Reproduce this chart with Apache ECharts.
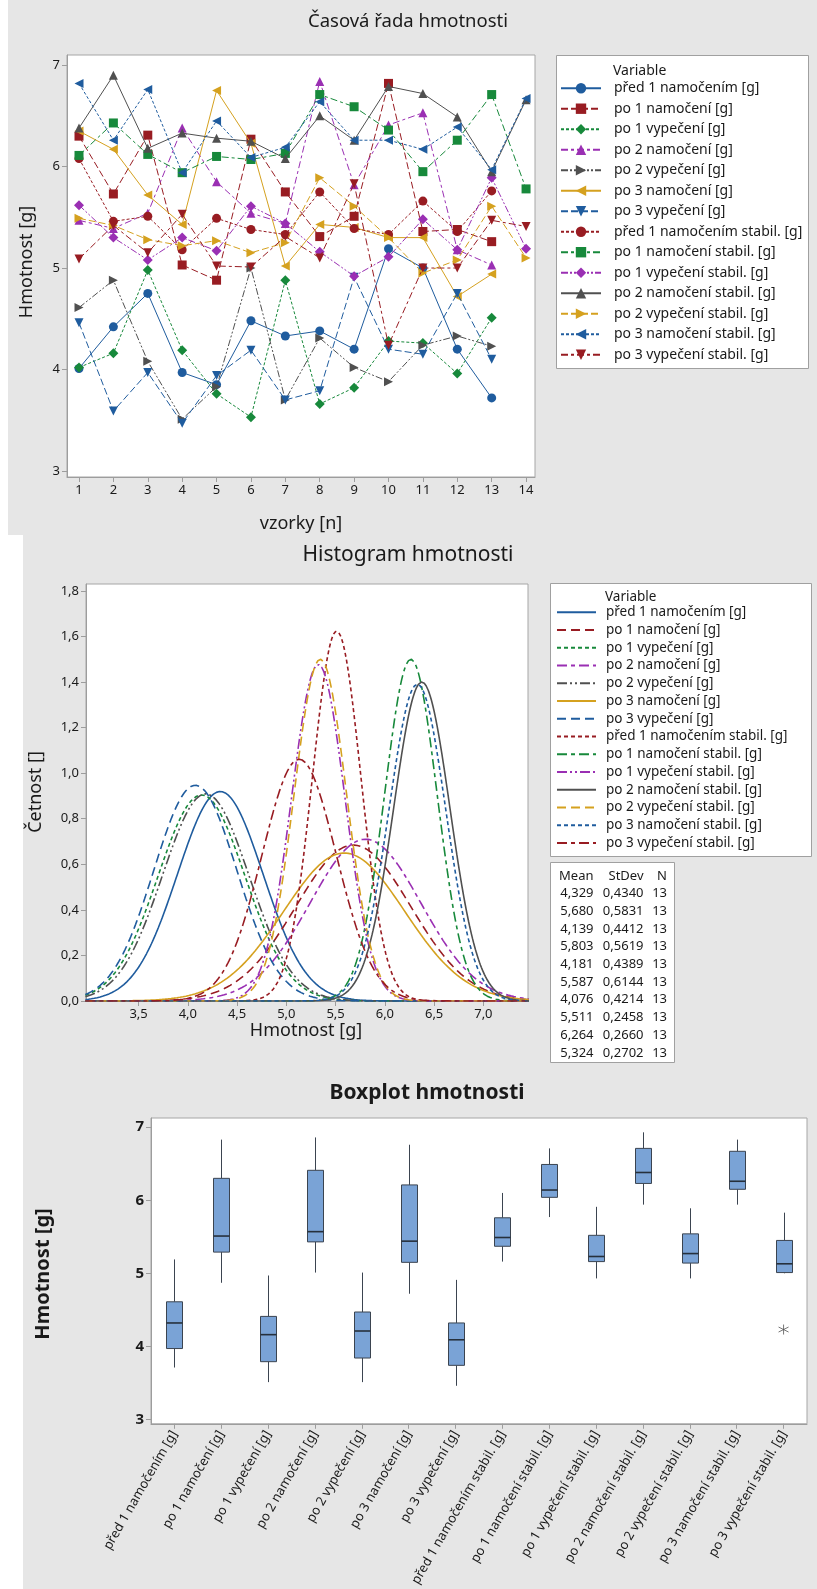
<!DOCTYPE html>
<html><head><meta charset="utf-8">
<script src="https://cdn.jsdelivr.net/npm/echarts@6/dist/echarts.min.js"></script>
<style>html,body{margin:0;padding:0;background:#fff}#c{width:817px;height:1589px}</style>
</head><body><div id="c"></div>
<script>
// ---------- DATA ----------
const seriesNames = [
  'před 1 namočením [g]','po 1 namočení [g]','po 1 vypečení [g]','po 2 namočení [g]',
  'po 2 vypečení [g]','po 3 namočení [g]','po 3 vypečení [g]','před 1 namočením stabil. [g]',
  'po 1 namočení stabil. [g]','po 1 vypečení stabil. [g]','po 2 namočení stabil. [g]',
  'po 2 vypečení stabil. [g]','po 3 namočení stabil. [g]','po 3 vypečení stabil. [g]'
];
const samples = [1,2,3,4,5,6,7,8,9,10,11,12,13,14];
const predNam     = [4.01,4.42,4.75,3.97,3.85,4.48,4.33,4.38,4.20,5.19,5.00,4.20,3.72];
const po1Nam      = [6.30,5.73,6.31,5.03,4.88,6.27,5.75,5.31,5.51,6.82,5.36,5.38,5.26];
const po1Vyp      = [4.02,4.16,4.98,4.19,3.76,3.53,4.88,3.66,3.82,4.28,4.26,3.96,4.51];
const po2Nam      = [5.47,5.39,5.54,6.38,5.85,5.54,5.44,6.84,5.82,6.41,6.53,5.18,5.03];
const po2Vyp      = [4.61,4.88,4.08,3.51,3.83,5.00,3.70,4.31,4.02,3.88,4.24,4.33,4.23];
const po3Nam      = [6.35,6.17,5.72,5.43,6.75,6.23,5.02,5.43,5.40,5.30,5.30,4.72,4.94];
const po3Vyp      = [4.46,3.59,3.97,3.47,3.94,4.19,3.70,3.79,4.91,4.20,4.15,4.75,4.10];
const predNamStab = [6.08,5.46,5.51,5.18,5.49,5.38,5.33,5.75,5.39,5.33,5.66,5.36,5.76];
const po1NamStab  = [6.11,6.43,6.12,5.94,6.10,6.07,6.13,6.71,6.59,6.36,5.95,6.26,6.71,5.78];
const po1VypStab  = [5.62,5.30,5.08,5.30,5.17,5.61,5.44,5.16,4.92,5.11,5.48,5.18,5.89,5.19];
const po2NamStab  = [6.38,6.90,6.18,6.33,6.28,6.25,6.08,6.50,6.26,6.79,6.72,6.49,5.95,6.66];
const po2VypStab  = [5.49,5.42,5.28,5.22,5.27,5.15,5.25,5.89,5.61,5.30,4.95,5.08,5.61,5.10];
const po3NamStab  = [6.82,6.26,6.76,5.94,6.45,6.09,6.19,6.64,6.26,6.26,6.17,6.39,5.97,6.67];
const po3VypStab  = [5.09,5.42,5.15,5.53,5.02,5.01,5.31,5.10,5.83,4.24,5.00,5.00,5.47,5.41];
const tsTicksX = [1,2,3,4,5,6,7,8,9,10,11,12,13,14];
const tsTicksY = [3,4,5,6,7];

// histogram: fitted normal distributions (mean, stdev)
const histMeans = [4.329,5.680,4.139,5.803,4.181,5.587,4.076,5.511,6.264,5.324,6.375,5.345,6.330,5.130];
const histSds   = [0.4340,0.5831,0.4412,0.5619,0.4389,0.6144,0.4214,0.2458,0.2660,0.2702,0.285,0.266,0.287,0.376];
const histN     = [13,13,13,13,13,13,13,13,13,13];
const histTicksX = [3.5,4.0,4.5,5.0,5.5,6.0,6.5,7.0];
const histTicksY = [0,0.2,0.4,0.6,0.8,1.0,1.2,1.4,1.6,1.8];

// boxplot five-number summaries
const boxLow  = [3.71,4.87,3.51,5.01,3.51,4.72,3.46,5.16,5.77,4.93,5.94,4.93,5.94,5.00];
const boxQ1   = [3.97,5.29,3.79,5.43,3.84,5.15,3.74,5.37,6.04,5.16,6.23,5.14,6.15,5.01];
const boxMed  = [4.32,5.51,4.16,5.57,4.21,5.44,4.09,5.49,6.14,5.23,6.38,5.27,6.26,5.13];
const boxQ3   = [4.61,6.30,4.41,6.41,4.47,6.21,4.32,5.76,6.49,5.52,6.71,5.54,6.67,5.45];
const boxHigh = [5.19,6.83,4.97,6.86,5.01,6.76,4.91,6.10,6.71,5.91,6.93,5.89,6.83,5.83];
const boxOutliers = [[13,4.23]];
const boxTicksY = [3,4,5,6,7];

// ---------- STYLE ----------
const FONT = '"Noto Sans", "Open Sans", sans-serif';
const TXT = '#1a1a1a';
const palette = ['#1f5c9e','#981c22','#17893b','#9a2fb3','#505050','#d5a11f'];
const dashTs   = ['solid',[7,3],[3,2],[7,3,3,3],[7,2,2,2,2,2]];
const dashHist = ['solid',[9,5],[4,3],[10,4,4,4],[10,3,2,3,2,3]];
const symbols = ['circle','rect','diamond','triangle',
  'path://M0,0L10,5L0,10Z','path://M10,0L0,5L10,10Z','path://M0,0L10,0L5,10Z'];

const tsValues = [predNam,po1Nam,po1Vyp,po2Nam,po2Vyp,po3Nam,po3Vyp,predNamStab,
  po1NamStab,po1VypStab,po2NamStab,po2VypStab,po3NamStab,po3VypStab];

const comma1 = v => v.toFixed(1).replace('.', ',');
const axisGray = '#9d9d9d';

function valueAxis(grid, min, max, ticks, fmt, fontSize, weight, margin) {
  return {
    type: 'value', gridIndex: grid, min: min, max: max,
    axisLine: {show: true, lineStyle: {color: axisGray}},
    axisTick: {show: true, length: 5, customValues: ticks, lineStyle: {color: axisGray}},
    axisLabel: {customValues: ticks, formatter: fmt, fontSize: fontSize, fontWeight: weight || 'normal',
      color: TXT, fontFamily: FONT, margin: margin || 7},
    splitLine: {show: false}
  };
}

const series = [];
// time series
tsValues.forEach((vals, i) => {
  series.push({
    name: seriesNames[i], type: 'line', xAxisIndex: 0, yAxisIndex: 0,
    data: vals.map((v, k) => [samples[k], v]),
    symbol: symbols[i % 7], symbolSize: i % 7 === 2 ? 10 : 9,
    showSymbol: true,
    lineStyle: {color: palette[i % 6], width: 1, type: dashTs[i % 5]},
    itemStyle: {color: palette[i % 6]},
    z: 2 + i * 0.01
  });
});
// histogram curves
const histX = [];
for (let k = 0; k <= 450; k++) histX.push(2.96 + k * 0.01);
histMeans.forEach((m, i) => {
  const s = histSds[i];
  series.push({
    name: seriesNames[i] + ' ', type: 'line', xAxisIndex: 1, yAxisIndex: 1,
    data: histX.map(x => [x, Math.exp(-0.5 * ((x - m) / s) ** 2) / (s * Math.sqrt(2 * Math.PI))]),
    symbol: 'none', showSymbol: false,
    lineStyle: {color: palette[i % 6], width: 1.6, type: dashHist[i % 5]},
    itemStyle: {color: palette[i % 6]}
  });
});
// boxplot
const boxData = seriesNames.map((n, i) => [i, boxLow[i], boxQ1[i], boxMed[i], boxQ3[i], boxHigh[i]]);
series.push({
  name: 'box', type: 'custom', xAxisIndex: 2, yAxisIndex: 2,
  encode: {x: 0, y: [1,2,3,4,5]},
  data: boxData,
  renderItem: function (params, api) {
    const x = api.value(0);
    const lo = api.coord([x, api.value(1)]);
    const q1 = api.coord([x, api.value(2)]);
    const md = api.coord([x, api.value(3)]);
    const q3 = api.coord([x, api.value(4)]);
    const hi = api.coord([x, api.value(5)]);
    const w = 16, cx = Math.round(lo[0]) + 0.5, st = '#3b4450';
    return {type: 'group', children: [
      {type: 'line', shape: {x1: cx, y1: hi[1], x2: cx, y2: q3[1]}, style: {stroke: st, lineWidth: 1}},
      {type: 'line', shape: {x1: cx, y1: q1[1], x2: cx, y2: lo[1]}, style: {stroke: st, lineWidth: 1}},
      {type: 'rect', shape: {x: cx - w / 2, y: q3[1], width: w, height: q1[1] - q3[1]},
        style: {fill: '#7aa3d6', stroke: st, lineWidth: 1}},
      {type: 'line', shape: {x1: cx - w / 2, y1: md[1], x2: cx + w / 2, y2: md[1]},
        style: {stroke: '#26303c', lineWidth: 1.6}}
    ]};
  }
});
series.push({
  name: 'outlier', type: 'scatter', xAxisIndex: 2, yAxisIndex: 2,
  data: boxOutliers,
  symbol: 'path://M5,0L5,10M0.67,2.5L9.33,7.5M0.67,7.5L9.33,2.5', symbolSize: 10,
  itemStyle: {color: 'rgba(0,0,0,0)', borderColor: '#555', borderWidth: 1}
});

// ---------- GRAPHICS (backgrounds, titles, legend frames, stats table) ----------
const g = [];
g.push({type: 'rect', z: -100, shape: {x: 8, y: 0, width: 809, height: 535}, style: {fill: '#e6e6e6'}});
g.push({type: 'rect', z: -100, shape: {x: 23, y: 535, width: 794, height: 1054}, style: {fill: '#e6e6e6'}});
function txt(x, y, text, size, opts) {
  opts = opts || {};
  return {type: 'text', z: 10, x: x, y: y, rotation: opts.rot || 0,
    style: {text: text, fontSize: size, fontFamily: FONT, fontWeight: opts.weight || 'normal',
      fill: opts.color || TXT, align: opts.align || 'center', verticalAlign: 'middle'}};
}
// titles / axis names
g.push(txt(408, 22, 'Časová řada hmotnosti', 18.5));
g.push(txt(27, 262, 'Hmotnost [g]', 18, {rot: Math.PI / 2}));
g.push(txt(301, 524, 'vzorky [n]', 18));
g.push(txt(408, 555, 'Histogram hmotnosti', 21));
g.push(txt(36, 792, 'Četnost []', 18, {rot: Math.PI / 2}));
g.push(txt(306, 1031, 'Hmotnost [g]', 18));
g.push(txt(427, 1093, 'Boxplot hmotnosti', 21, {weight: 'bold'}));
g.push(txt(43, 1274, 'Hmotnost [g]', 20, {rot: Math.PI / 2, weight: 'bold'}));
// legend frames
g.push({type: 'rect', z: 1, shape: {x: 556.5, y: 55.5, width: 252, height: 313}, style: {fill: '#fff', stroke: '#a0a0a0', lineWidth: 1}});
g.push(txt(613, 71.5, 'Variable', 14, {align: 'left'}));
g.push({type: 'rect', z: 1, shape: {x: 550.5, y: 583.5, width: 261, height: 273}, style: {fill: '#fff', stroke: '#a0a0a0', lineWidth: 1}});
g.push(txt(605, 597, 'Variable', 13.5, {align: 'left'}));
// stats table
g.push({type: 'rect', z: 1, shape: {x: 550.5, y: 862.5, width: 124, height: 200}, style: {fill: '#fff', stroke: '#a0a0a0', lineWidth: 1}});
g.push(txt(593.5, 876, 'Mean', 13, {align: 'right'}));
g.push(txt(643.5, 876, 'StDev', 13, {align: 'right'}));
g.push(txt(667, 876, 'N', 13, {align: 'right'}));
histN.forEach((n, i) => {
  const y = 893.5 + i * 17.7;
  g.push(txt(593.5, y, histMeans[i].toFixed(3).replace('.', ','), 13, {align: 'right'}));
  g.push(txt(643.5, y, histSds[i].toFixed(4).replace('.', ','), 13, {align: 'right'}));
  g.push(txt(667, y, String(n), 13, {align: 'right'}));
});

const option = {
  animation: false,
  textStyle: {fontFamily: FONT},
  grid: [
    {left: 67, top: 55, width: 468, height: 422, show: true, backgroundColor: '#fff', borderColor: '#a6a6a6', borderWidth: 1},
    {left: 86, top: 584, width: 442, height: 417, show: true, backgroundColor: '#fff', borderColor: '#a6a6a6', borderWidth: 1},
    {left: 151, top: 1118, width: 656, height: 309, show: true, backgroundColor: '#fff', borderColor: '#a6a6a6', borderWidth: 1}
  ],
  xAxis: [
    valueAxis(0, 0.651, 14.26, tsTicksX, v => String(v), 13),
    valueAxis(1, 2.966, 7.453, histTicksX, comma1, 13),
    {type: 'category', gridIndex: 2, data: seriesNames,
      axisLine: {show: true, lineStyle: {color: axisGray}},
      axisTick: {show: true, alignWithLabel: true, length: 5, lineStyle: {color: axisGray}},
      axisLabel: {interval: 0, rotate: 60, fontSize: 13, color: TXT, fontFamily: FONT, margin: 8},
      splitLine: {show: false}}
  ],
  yAxis: [
    valueAxis(0, 2.94, 7.10, tsTicksY, v => String(v), 13),
    valueAxis(1, 0, 1.83, histTicksY, comma1, 13),
    valueAxis(2, 2.94, 7.126, boxTicksY, v => String(v), 15, 'bold')
  ],
  legend: [
    {orient: 'vertical', left: 560, top: 81.2, padding: 0, itemWidth: 40, itemHeight: 13, itemGap: 6.5,
      selectedMode: false, data: seriesNames,
      textStyle: {fontSize: 14, lineHeight: 14, color: TXT, fontFamily: FONT, padding: [0,0,0,8]}},
    {orient: 'vertical', left: 556, top: 605.3, padding: 0, itemWidth: 39, itemHeight: 13, itemGap: 3.75,
      selectedMode: false, data: seriesNames.map(n => n + ' '),
      itemStyle: {opacity: 0},
      textStyle: {fontSize: 13.5, lineHeight: 14, color: TXT, fontFamily: FONT, padding: [0,0,0,5]}}
  ],
  graphic: g,
  series: series
};
const chart = echarts.init(document.getElementById('c'), null, {renderer: 'canvas'});
chart.setOption(option);
</script></body></html>
